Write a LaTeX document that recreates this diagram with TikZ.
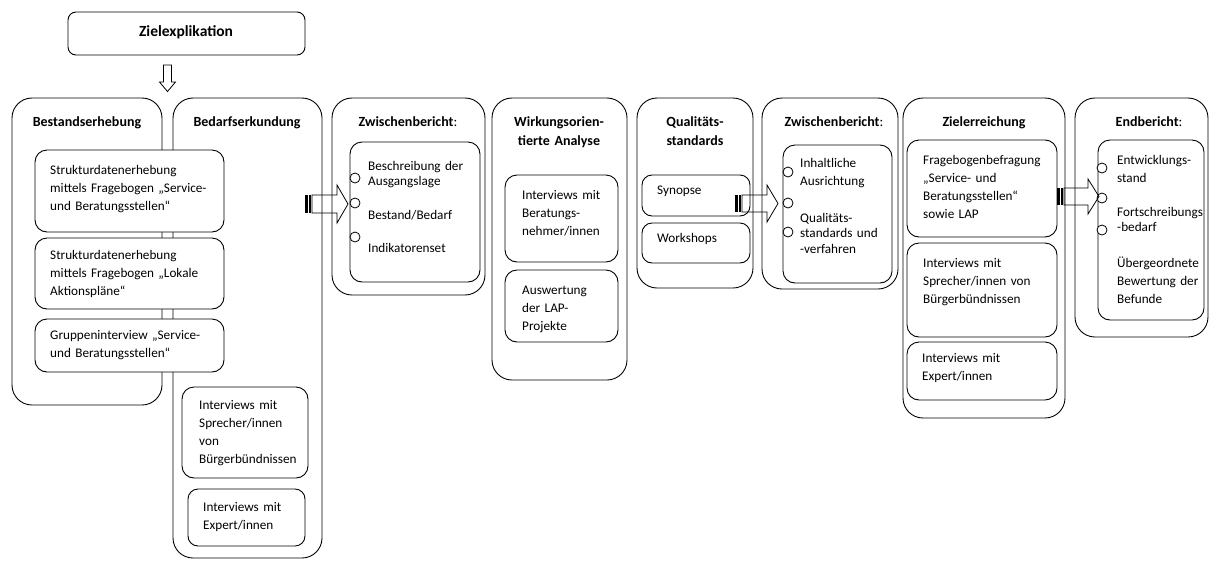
\documentclass[tikz,border=0pt]{standalone}
\usepackage{fontspec}
\setmainfont{Carlito}
\newcommand{\mkbox}[6]{\node[#2, minimum width={#5-#3}, minimum height={#6-#4}] (#1) at ({(#3+#5)/2},{(#4+#6)/2}) {};}
\newcommand{\stripedarrow}[8]{%
  \coordinate (#1) at (#2,{(#3+#4)/2});
  \fill (#2,#3) rectangle ({#2+3},#4);
  \fill ({#2+4},#3) rectangle ({#2+6},#4);
  \draw[arrline] ({#2+7},#3) -- (#5,#3) -- (#5,#6) -- (#8,{(#3+#4)/2}) -- (#5,#7) -- (#5,#4) -- ({#2+7},#4) -- cycle;
}
\tikzset{
  outerbox/.style={draw, rounded corners=20pt, line width=0.9pt, inner sep=0pt, outer sep=0pt},
  innerbox/.style={draw, fill=white, rounded corners=12pt, line width=0.9pt, inner sep=0pt, outer sep=0pt},
  topbox/.style={draw, fill=white, rounded corners=8pt, line width=0.9pt, inner sep=0pt, outer sep=0pt},
  dot/.style={draw, fill=white, circle, minimum size=10pt, inner sep=0pt, line width=0.8pt},
  arrline/.style={line width=0.8pt, line join=miter},
  title/.style={font=\fontsize{14}{19}\selectfont\bfseries, anchor=base, align=center, text width=140pt, inner sep=0pt},
  txt/.style={font=\fontsize{13.2}{18}\selectfont, anchor=base west, align=left, text width=170pt, inner sep=0pt},
  txttight/.style={txt, font=\fontsize{13.2}{15.5}\selectfont},
}
\begin{document}
\begin{tikzpicture}[x=1pt,y=-1pt]
\useasboundingbox (0,0) rectangle (1210,563);
% top box
\mkbox{zielex}{topbox}{68}{12}{305}{55}
\node[font=\fontsize{15.5}{19}\selectfont\bfseries, anchor=base, inner sep=0pt] (zielextxt) at (186,36) {Zielexplikation};
% down arrow
\coordinate (darr) at (167.5,65);
\draw[arrline] (163.5,65) -- (171.5,65) -- (171.5,82) -- (175.5,82) -- (167.5,91.5) -- (159.5,82) -- (163.5,82) -- cycle;
% outer columns
\mkbox{bestand}{outerbox}{12}{98}{162}{405}
\mkbox{bedarf}{outerbox}{173}{98}{322}{558}
\mkbox{zwA}{outerbox}{332}{98}{485}{295}
\mkbox{wirk}{outerbox}{492}{98}{627}{380}
\mkbox{qual}{outerbox}{637}{98}{753}{288}
\mkbox{zwB}{outerbox}{762}{98}{898}{289}
\mkbox{zielerr}{outerbox}{903}{98}{1065}{418}
\mkbox{endb}{outerbox}{1075}{98}{1208}{337}
% inner boxes
\mkbox{b1}{innerbox}{35}{150}{224}{232}
\mkbox{b2}{innerbox}{35}{238}{224}{309}
\mkbox{b3}{innerbox}{35}{319}{224}{372}
\mkbox{d1}{innerbox}{182}{387}{308}{478}
\mkbox{d2}{innerbox, rounded corners=10pt}{188}{489}{305}{546}
\mkbox{z1}{innerbox}{350}{142}{480}{282}
\mkbox{w1}{innerbox}{505}{175}{618}{262}
\mkbox{w2}{innerbox}{505}{270}{618}{342}
\mkbox{q1}{innerbox, rounded corners=10pt}{642}{175}{750}{216}
\mkbox{q2}{innerbox, rounded corners=10pt}{642}{223}{750}{263}
\mkbox{z2}{innerbox}{783}{145}{892}{283}
\mkbox{e1}{innerbox}{907}{140}{1057}{237}
\mkbox{e2}{innerbox}{907}{243}{1057}{337}
\mkbox{e3}{innerbox}{907}{342}{1057}{400}
\mkbox{n1}{innerbox}{1098}{140}{1204}{320}
% bullets
\node[dot] (c11) at (355,178) {};
\node[dot] (c12) at (355,203) {};
\node[dot] (c13) at (355,237) {};
\node[dot] (c21) at (788,172) {};
\node[dot] (c22) at (788,203) {};
\node[dot] (c23) at (788,232) {};
\node[dot] (c31) at (1102,168) {};
\node[dot] (c32) at (1102,198) {};
\node[dot] (c33) at (1102,230) {};
% block arrows
\stripedarrow{arrA}{305}{195}{213}{337}{185}{223}{348}
\stripedarrow{arrB}{735}{195}{212}{767}{185}{222}{778}
\stripedarrow{arrC}{1057}{188}{205}{1088}{179}{214}{1099}
% titles
\node[title] (tb) at (87,126) {Bestandserhebung};
\node[title] (td) at (247,126) {Bedarfserkundung};
\node[title] (tz1) at (408,126) {Zwischenbericht\mdseries:};
\node[title] (tw) at (559,126) {Wirkungsorien-\\tierte Analyse};
\node[title] (tq) at (695,126) {Qualitäts-\\standards};
\node[title] (tz2) at (834,126) {Zwischenbericht\mdseries:};
\node[title] (tzi) at (984,126) {Zielerreichung};
\node[title] (te) at (1149,126) {Endbericht\mdseries:};
% texts
\node[txt] (b1t) at (50,174) {Strukturdatenerhebung\\mittels Fragebogen „Service-\\und Beratungsstellen“};
\node[txt] (b2t) at (50,259) {Strukturdatenerhebung\\mittels Fragebogen „Lokale\\Aktionspläne“};
\node[txt] (b3t) at (50,339) {Gruppeninterview „Service-\\und Beratungsstellen“};
\node[txt] (d1t) at (199,409) {Interviews mit\\Sprecher/innen\\von\\Bürgerbündnissen};
\node[txt] (d2t) at (203,511) {Interviews mit\\Expert/innen};
\node[txttight] (z1a) at (368,170) {Beschreibung der\\Ausgangslage};
\node[txt] (z1b) at (368,219) {Bestand/Bedarf};
\node[txt] (z1c) at (368,252) {Indikatorenset};
\node[txt] (w1t) at (522,199) {Interviews mit\\Beratungs-\\nehmer/innen};
\node[txt] (w2t) at (522,294) {Auswertung\\der LAP-\\Projekte};
\node[txt] (q1t) at (657,194) {Synopse};
\node[txt] (q2t) at (657,242) {Workshops};
\node[txt] (z2a) at (800,167) {Inhaltliche\\Ausrichtung};
\node[txttight] (z2b) at (800,222) {Qualitäts-\\standards und\\-verfahren};
\node[txt] (e1t) at (923,164) {Fragebogenbefragung\\„Service- und\\Beratungsstellen“\\sowie LAP};
\node[txt] (e2t) at (923,267) {Interviews mit\\Sprecher/innen von\\Bürgerbündnissen};
\node[txt] (e3t) at (922,362) {Interviews mit\\Expert/innen};
\node[txt] (n1a) at (1117,164) {Entwicklungs-\\stand};
\node[txttight] (n1b) at (1117,216) {Fortschreibungs\\-bedarf};
\node[txt] (n1c) at (1117,267) {Übergeordnete\\Bewertung der\\Befunde};
\end{tikzpicture}
\end{document}
